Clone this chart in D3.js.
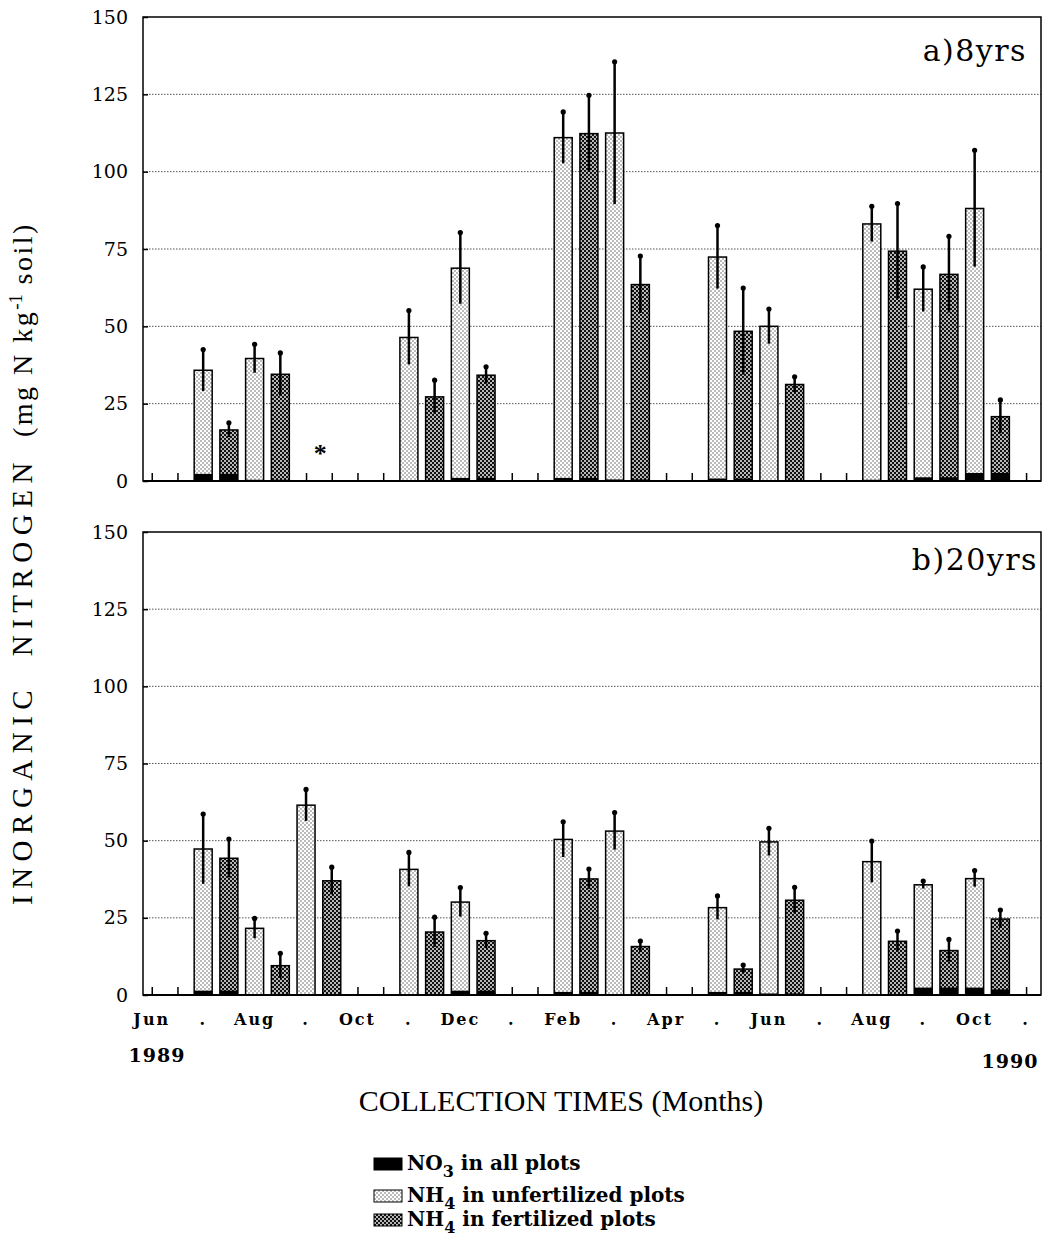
<!DOCTYPE html>
<html><head><meta charset="utf-8">
<script src="https://cdn.jsdelivr.net/npm/d3@7"></script>
<style>body{margin:0;background:#fff}</style>
</head><body>
<svg id="c" width="1044" height="1257" xmlns="http://www.w3.org/2000/svg"></svg>
<script>
// ---------- data ----------
const monthLabels = ["Jun",".","Aug",".","Oct",".","Dec",".","Feb",".","Apr",".","Jun",".","Aug",".","Oct","."];
const monthSlots  = [0,2,4,6,8,10,12,14,16,18,20,22,24,26,28,30,32,34];
const yTicks = [0,25,50,75,100,125,150];
const gridValues = [25,50,75,100,125];
const yearLabels = ["1989","1990"];

// panel a) 8yrs
const topSlots = [2,3,4,5,10,11,12,13,16,17,18,19,22,23,24,25,28,29,30,31,32,33];
const topTreat = ["u","f","u","f","u","f","u","f","u","f","u","f","u","f","u","f","u","f","u","f","u","f"];
const topNH4 = [35.8,16.5,39.6,34.5,46.4,27.2,68.8,34.2,111,112.3,112.5,63.5,72.4,48.4,50,31.2,83.1,74.3,62,66.8,88.1,20.8];
const topErr = [6.7,2.3,4.6,6.9,8.7,5.4,11.5,2.7,8.3,12.4,23,9.2,10.2,14,5.6,2.5,5.7,15.4,7.2,12.3,18.8,5.4];
const topNO3 = [2.3,2.3,0.4,0.4,0.3,0.3,1,1,1,1,0.5,0.5,0.8,0.8,0.3,0.3,0.4,0.4,1.2,1.2,2.6,2.6];
const topMissingSlot = [6.55];
const topMissingValue = [9];

// panel b) 20yrs
const botSlots = [2,3,4,5,6,7,10,11,12,13,16,17,18,19,22,23,24,25,28,29,30,31,32,33];
const botTreat = ["u","f","u","f","u","f","u","f","u","f","u","f","u","f","u","f","u","f","u","f","u","f","u","f"];
const botNH4 = [47.3,44.3,21.6,9.5,61.5,37,40.7,20.4,30.1,17.6,50.4,37.6,53.1,15.7,28.3,8.4,49.6,30.7,43.2,17.4,35.7,14.4,37.7,24.6];
const botErr = [11.3,6.2,3.2,4,5.1,4.4,5.5,4.8,4.7,2.4,5.7,3.2,6,1.8,3.8,1.3,4.4,4.2,6.7,3.3,1.2,3.6,2.6,2.9];
const botNO3 = [1.4,1.4,0.3,0.3,0.3,0.3,0.3,0.3,1.4,1.4,1,1,0.3,0.3,1,1,0.5,0.5,0.3,0.3,2.4,2.4,2.4,1.8];

const legendLabels = [
  {main:"NO", sub:"3", rest:" in all plots", fill:"#000"},
  {main:"NH", sub:"4", rest:" in unfertilized plots", fill:"url(#pLight)"},
  {main:"NH", sub:"4", rest:" in fertilized plots", fill:"url(#pDark)"}
];

// ---------- drawing ----------
const svg = d3.select("#c");
const serif = "'DejaVu Serif', serif";
const times = "'Liberation Serif', 'Times New Roman', serif";

const defs = svg.append("defs");
const pl = defs.append("pattern").attr("id","pLight").attr("width",4).attr("height",4).attr("patternUnits","userSpaceOnUse");
pl.append("rect").attr("width",4).attr("height",4).attr("fill","#fff");
pl.append("circle").attr("cx",1).attr("cy",1).attr("r",0.7).attr("fill","#444");
pl.append("circle").attr("cx",3).attr("cy",3).attr("r",0.7).attr("fill","#444");
const pd = defs.append("pattern").attr("id","pDark").attr("width",4).attr("height",4).attr("patternUnits","userSpaceOnUse");
pd.append("rect").attr("width",4).attr("height",4).attr("fill","#111");
pd.append("circle").attr("cx",1).attr("cy",1).attr("r",0.95).attr("fill","#fff");
pd.append("circle").attr("cx",3).attr("cy",3).attr("r",0.95).attr("fill","#fff");

const x = d3.scaleLinear().domain([-0.34, 34.58]).range([143, 1041]);
const barW = x(0.35) - x(-0.35);

function panel(y, slots, treat, nh4, err, no3, label, labelBaseline, labelRight){
  const g = svg.append("g");
  g.selectAll(".grid").data(gridValues).enter().append("line")
    .attr("x1", x.range()[0]).attr("x2", x.range()[1])
    .attr("y1", d=>y(d)).attr("y2", d=>y(d))
    .attr("stroke","#555").attr("stroke-width",1).attr("stroke-dasharray","1.5,1.5");
  g.append("rect").attr("x",x.range()[0]).attr("y",y(150)).attr("width",x.range()[1]-x.range()[0])
    .attr("height",y(0)-y(150)).attr("fill","none").attr("stroke","#000").attr("stroke-width",1.5);
  const ya = d3.axisLeft(y).tickValues(yTicks).tickSize(-5).tickPadding(15).tickFormat(d3.format("d"));
  const ag = g.append("g").attr("transform",`translate(${x.range()[0]},0)`).call(ya);
  ag.select(".domain").remove();
  ag.selectAll("line").attr("stroke","#000").attr("stroke-width",1.5);
  ag.selectAll("text").attr("font-family",serif).attr("font-size",19).attr("fill","#000");
  const xa = d3.axisBottom(x).tickValues(d3.range(0,35)).tickSize(-8).tickFormat("");
  const xg = g.append("g").attr("transform",`translate(0,${y(0)})`).call(xa);
  xg.select(".domain").remove();
  xg.selectAll("line").attr("stroke","#000").attr("stroke-width",1.5);
  const data = slots.map((s,i)=>({s, t:treat[i], v:nh4[i], e:err[i], n:no3[i]}));
  g.selectAll(".bar").data(data).enter().append("rect")
    .attr("x",d=>x(d.s)-barW/2).attr("width",barW)
    .attr("y",d=>y(d.v)).attr("height",d=>y(0)-y(d.v))
    .attr("fill",d=>d.t==="u"?"url(#pLight)":"url(#pDark)")
    .attr("stroke","#000").attr("stroke-width",1.5);
  g.selectAll(".no3").data(data).enter().append("rect")
    .attr("x",d=>x(d.s)-barW/2).attr("width",barW)
    .attr("y",d=>y(d.n)).attr("height",d=>y(0)-y(d.n))
    .attr("fill","#000");
  g.selectAll(".err").data(data).enter().append("line")
    .attr("x1",d=>x(d.s)).attr("x2",d=>x(d.s))
    .attr("y1",d=>y(d.v+d.e)).attr("y2",d=>y(Math.max(0,d.v-d.e)))
    .attr("stroke","#000").attr("stroke-width",2.5);
  g.selectAll(".cap").data(data).enter().append("circle")
    .attr("cx",d=>x(d.s)).attr("cy",d=>y(d.v+d.e)).attr("r",2.6).attr("fill","#000");
  g.append("line").attr("x1",x.range()[0]).attr("x2",x.range()[1]).attr("y1",y(0)).attr("y2",y(0))
    .attr("stroke","#000").attr("stroke-width",2);
  g.append("text").attr("x",labelRight).attr("y",labelBaseline).attr("text-anchor","end")
    .attr("font-family",serif).attr("font-size",30).attr("letter-spacing",1.5).attr("fill","#000").text(label);
  return g;
}

const yTop = d3.scaleLinear().domain([0,150]).range([481,17]);
const yBot = d3.scaleLinear().domain([0,150]).range([995,532]);

const gTop = panel(yTop, topSlots, topTreat, topNH4, topErr, topNO3, "a)8yrs", 61, 1027);
gTop.selectAll(".miss").data(topMissingSlot).enter().append("text")
  .attr("x",d=>x(d)).attr("y",(d,i)=>yTop(topMissingValue[i])+9).attr("text-anchor","middle")
  .attr("font-family",times).attr("font-weight","bold").attr("font-size",26).text("*");

panel(yBot, botSlots, botTreat, botNH4, botErr, botNO3, "b)20yrs", 570, 1038);

svg.append("g").selectAll("text").data(monthLabels).enter().append("text")
  .attr("x",(d,i)=>x(monthSlots[i])).attr("y",1025).attr("text-anchor","middle")
  .attr("font-family",serif).attr("font-weight","bold").attr("font-size",16).attr("letter-spacing",2)
  .attr("fill","#000").text(d=>d);

svg.append("text").attr("x",157).attr("y",1062).attr("text-anchor","middle")
  .attr("font-family",serif).attr("font-weight","bold").attr("font-size",19).attr("letter-spacing",1).text(yearLabels[0]);
svg.append("text").attr("x",1010).attr("y",1068).attr("text-anchor","middle")
  .attr("font-family",serif).attr("font-weight","bold").attr("font-size",19).attr("letter-spacing",1).text(yearLabels[1]);

svg.append("text").attr("x",561).attr("y",1111).attr("text-anchor","middle")
  .attr("font-family",times).attr("font-size",30).attr("fill","#000").text("COLLECTION TIMES (Months)");

const yt = svg.append("text").attr("transform","translate(32,905) rotate(-90)").attr("text-anchor","start")
  .attr("font-family",times).attr("font-size",29).attr("fill","#000").style("white-space","pre");
yt.append("tspan").attr("letter-spacing",6.5).text("INORGANIC  NITROGEN");
yt.append("tspan").attr("font-size",28).attr("letter-spacing",2.5).text("  (mg N kg");
yt.append("tspan").attr("dy",-10).attr("font-size",19).text("-1");
yt.append("tspan").attr("dy",10).attr("font-size",28).attr("letter-spacing",2.5).text(" soil)");

const lg = svg.append("g");
const rowsY = [1170, 1202, 1226];
legendLabels.forEach((d,i)=>{
  lg.append("rect").attr("x",374).attr("y",rowsY[i]-12).attr("width",28).attr("height",12)
    .attr("fill",d.fill).attr("stroke","#000").attr("stroke-width",1);
  const t = lg.append("text").attr("x",407).attr("y",rowsY[i]).attr("font-family",serif)
    .attr("font-weight","bold").attr("font-size",20).attr("fill","#000").style("white-space","pre");
  t.append("tspan").text(d.main);
  t.append("tspan").attr("dy",7).attr("font-size",16).text(d.sub);
  t.append("tspan").attr("dy",-7).text(d.rest);
});
</script>
</body></html>
